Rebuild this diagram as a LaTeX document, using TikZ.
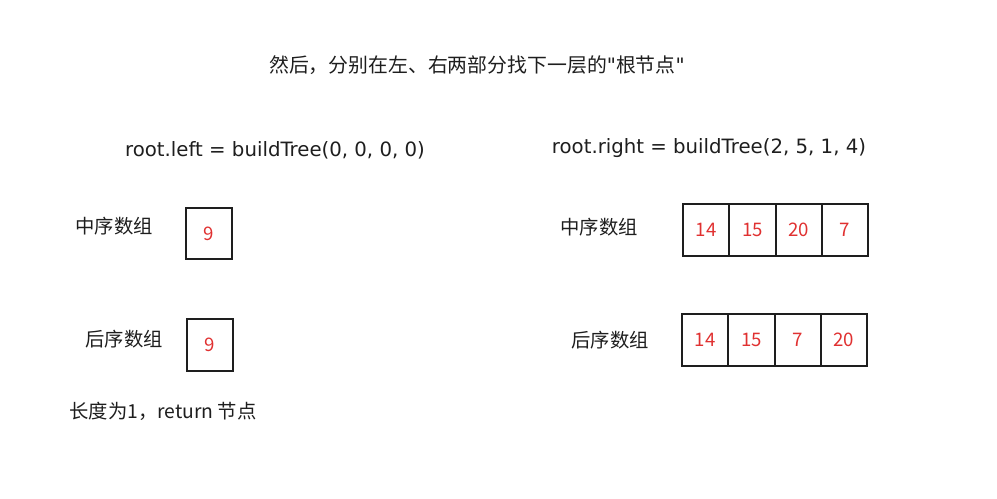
\documentclass[tikz,border=0pt]{standalone}
\usepackage{fontspec}
\setmainfont{Noto Sans CJK SC}
\newfontfamily\callfont{DejaVu Sans}
\usetikzlibrary{positioning}
\definecolor{inktext}{HTML}{1E1E1E}
\definecolor{cellnum}{HTML}{E03131}

\begin{document}
\begin{tikzpicture}[
  x=0.75pt,
  y=-0.75pt,
  label/.style={text=inktext,font=\fontsize{14.5pt}{17pt}\selectfont,inner sep=0pt},
  call/.style={text=inktext,font=\callfont\fontsize{14.8pt}{17pt}\selectfont,inner sep=0pt},
  cell/.style={draw=inktext,line width=1.5pt,outer sep=0pt,inner sep=0pt,
    minimum width=34.6pt,minimum height=38.3pt,
    text=cellnum,font=\fontsize{14pt}{16pt}\selectfont}
]
  \useasboundingbox (0,0) rectangle (997,499);

  % Heading and the two recursive calls.
  \node[label,font=\fontsize{14.9pt}{17pt}\selectfont] (title) at (477,65) {然后，分别在左、右两部分找下一层的{\callfont"}根节点{\callfont"}};
  \node[call] (leftcall) at (275,150) {root.left = buildTree(0, 0, 0, 0)};
  \node[call] (rightcall) at (709,148) {root.right = buildTree(2, 5, 1, 4)};

  % Left subtree: a single element in both arrays.
  \node[label] (leftinlbl) at (114,226) {中序数组};
  \node[cell] (leftin) at (209,233.5) {9};
  \node[label] (leftpostlbl) at (124,339) {后序数组};
  \node[cell] (leftpost) at (210,345) {9};
  \node[label] (leafnote) at (163,411) {长度为1，return 节点};

  % Right subtree: inorder cells, laid edge to edge.
  \node[label] (rightinlbl) at (599,227) {中序数组};
  \node[cell] (rin1) at (706.3,230) {14};
  \node[cell,right=0pt of rin1] (rin2) {15};
  \node[cell,right=0pt of rin2] (rin3) {20};
  \node[cell,right=0pt of rin3] (rin4) {7};

  % Right subtree: postorder cells.
  \node[label] (rightpostlbl) at (610,340) {后序数组};
  \node[cell] (rpost1) at (705.3,340) {14};
  \node[cell,right=0pt of rpost1] (rpost2) {15};
  \node[cell,right=0pt of rpost2] (rpost3) {7};
  \node[cell,right=0pt of rpost3] (rpost4) {20};
\end{tikzpicture}
\end{document}
